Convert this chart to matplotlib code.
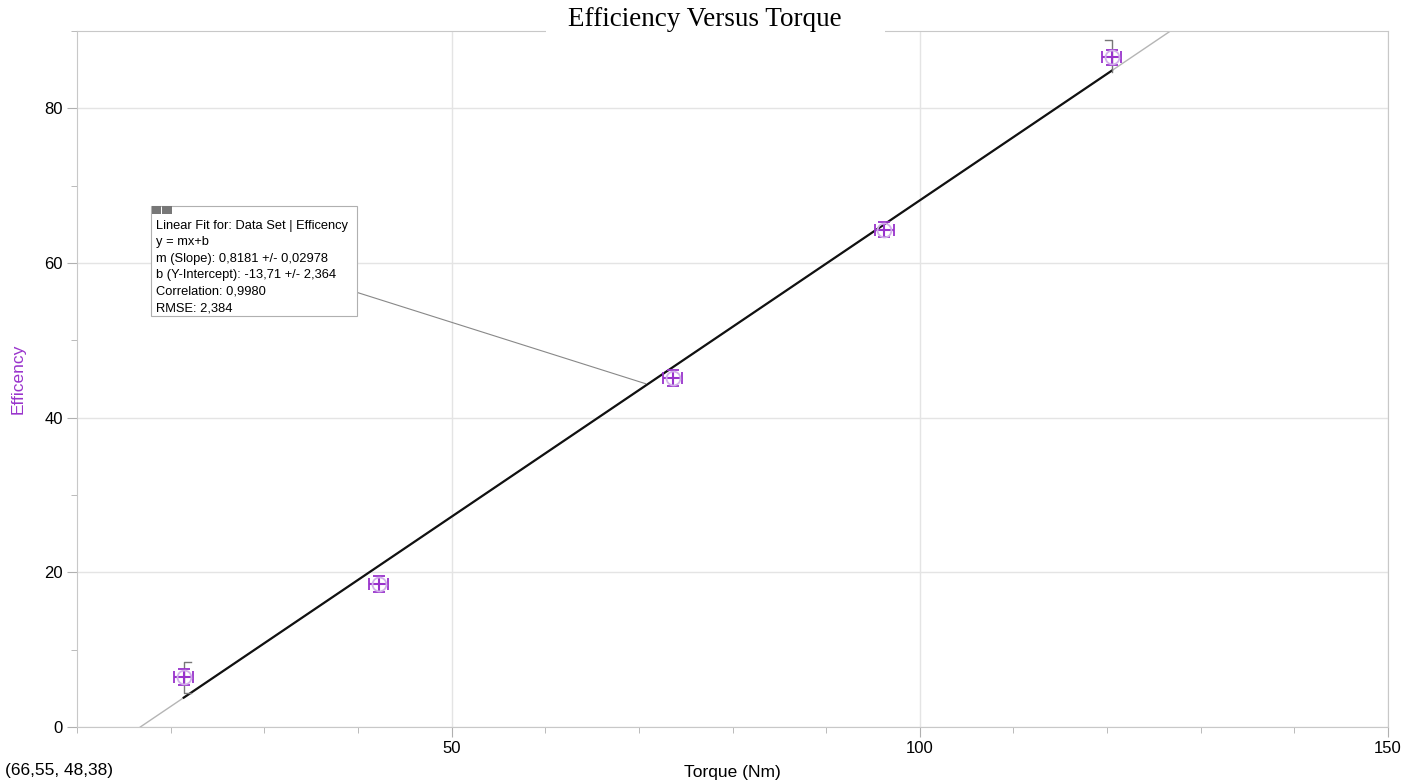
import matplotlib.pyplot as plt
from matplotlib.patches import Rectangle
from matplotlib.ticker import MultipleLocator

# data
torque = [21.4, 42.2, 73.6, 96.2, 120.5]
efficiency = [6.46, 18.5, 45.1, 64.3, 86.6]
torque_err = [1.0, 1.0, 1.0, 1.0, 1.0]
eff_err = [1.0, 1.0, 1.0, 1.0, 1.0]

slope = 0.8181
intercept = -13.71
fit_lines = [
    'Linear Fit for: Data Set | Efficency',
    'y = mx+b',
    'm (Slope): 0,8181 +/- 0,02978',
    'b (Y-Intercept): -13,71 +/- 2,364',
    'Correlation: 0,9980',
    'RMSE: 2,384',
]

purple = '#9933cc'
plt.rcParams['font.family'] = ['Liberation Sans', 'DejaVu Sans']

fig = plt.figure(figsize=(14.19, 7.84), dpi=100)
ax = fig.add_axes([77 / 1419, 57 / 784, 1311 / 1419, 696 / 784])
ax.set_xlim(10, 150)
ax.set_ylim(0, 90)

ax.xaxis.set_major_locator(MultipleLocator(50))
ax.xaxis.set_minor_locator(MultipleLocator(10))
ax.yaxis.set_major_locator(MultipleLocator(20))
ax.yaxis.set_minor_locator(MultipleLocator(10))
ax.tick_params(which='major', length=7, color='#b0b0b0', labelsize=12, pad=3)
ax.tick_params(which='minor', length=4, color='#b0b0b0')
ax.grid(True, which='major', color='#e4e4e4', lw=1)
for s in ax.spines.values():
    s.set_color('#c8c8c8')

# fit line: gray over whole range, black over data range
xs = [-intercept / slope, (90 - intercept) / slope]
ax.plot(xs, [slope * x + intercept for x in xs], color='#b5b5b5', lw=1, zorder=2)
xb = [torque[0], torque[-1]]
ax.plot(xb, [slope * x + intercept for x in xb], color='#111111', lw=1.6, zorder=3)

# gray range brackets at first and last points
ax.plot([torque[0] + 0.8, torque[0], torque[0], torque[0] + 0.8],
        [8.4, 8.4, 4.4, 4.4], color='#777777', lw=1, zorder=3)
ax.plot([torque[-1] - 0.7, torque[-1], torque[-1]],
        [88.8, 88.8, 84.7], color='#777777', lw=1, zorder=3)

ax.errorbar(torque, efficiency, xerr=torque_err, yerr=eff_err, fmt='o',
            mfc='none', mec='#d2b0ea', ms=10, mew=1.3, ecolor=purple,
            elinewidth=1.5, capsize=4.5, capthick=1.5, zorder=4)

# fit info box
ax.add_patch(Rectangle((17.9, 53.1), 22.0, 14.3, fc='white', ec='#b0b0b0',
                       lw=0.8, zorder=5))
ax.add_patch(Rectangle((18.0, 66.4), 1.0, 1.0, fc='#777777', ec='none', zorder=6))
ax.add_patch(Rectangle((19.1, 66.4), 1.0, 1.0, fc='#777777', ec='none', zorder=6))
ax.text(18.4, 65.6, '\n'.join(fit_lines), fontsize=9.3, va='top', ha='left',
        linespacing=1.5, zorder=6)
ax.plot([39.9, 70.7], [56.2, 44.4], color='#888888', lw=0.8, zorder=2)

ax.set_xlabel('Torque (Nm)', fontsize=12.5)
ax.set_ylabel('Efficency', fontsize=12.5, color=purple)
ax.xaxis.set_label_coords(0.5, -0.055)
ax.yaxis.set_label_coords(-0.039, 0.5)

# title on white patch over the top frame
fig.patches.append(Rectangle((546 / 1419, 1 - 36 / 784), 339 / 1419, 36 / 784,
                             transform=fig.transFigure, fc='white', ec='none',
                             zorder=10))
fig.text(705 / 1419, 1 - 19 / 784, 'Efficiency Versus Torque', ha='center',
         va='center', fontsize=19.5, family='Liberation Serif', zorder=11)
fig.text(5 / 1419, 1 - 770 / 784, '(66,55, 48,38)', ha='left', va='center',
         fontsize=12.5)

fig.savefig('out.png', dpi=100)
